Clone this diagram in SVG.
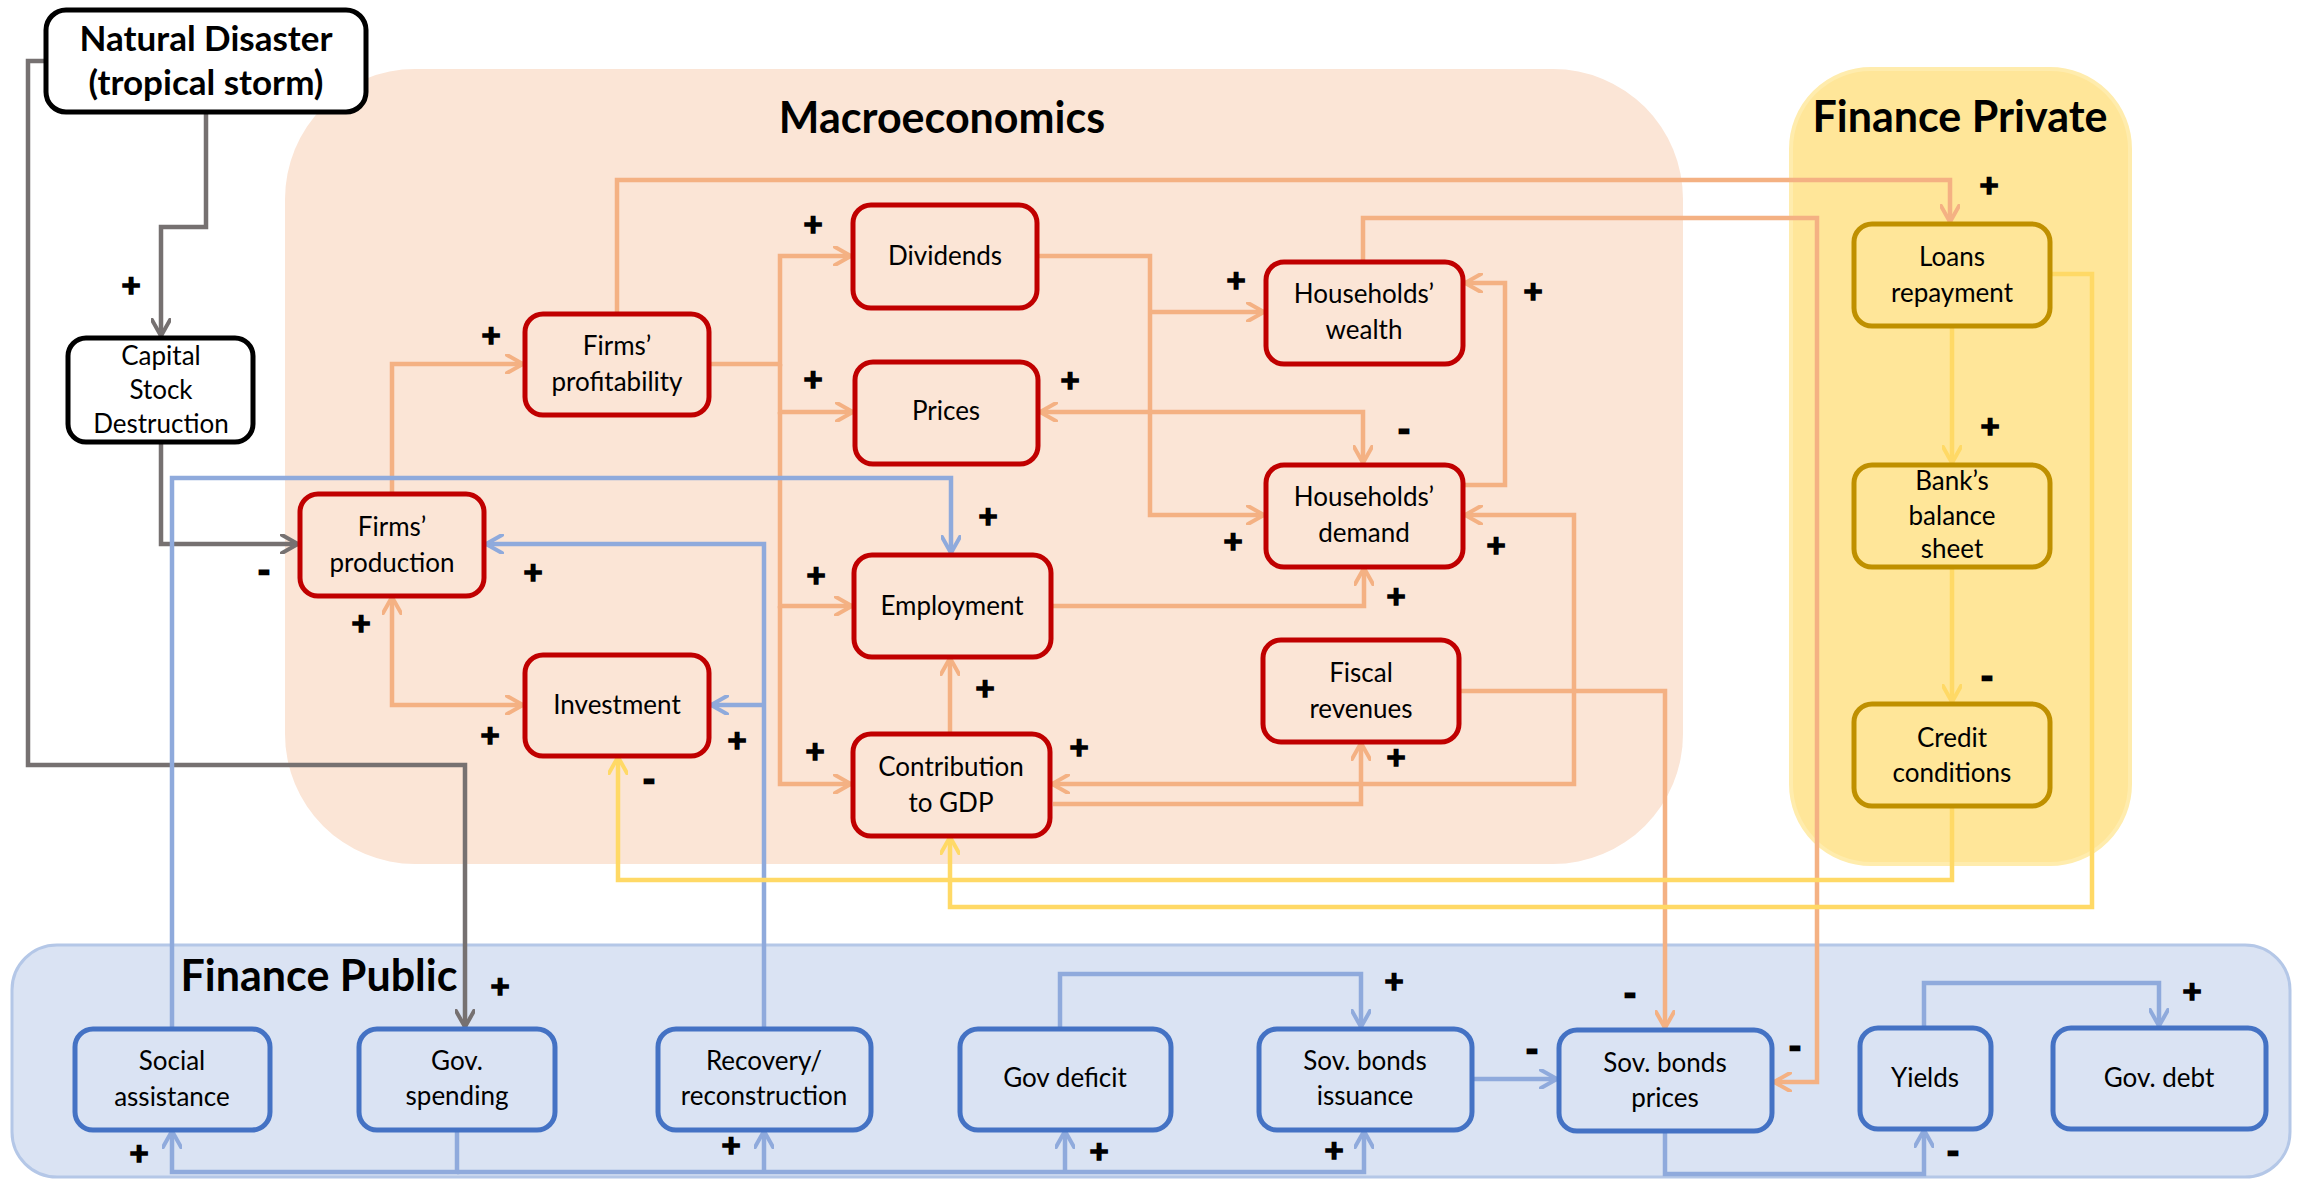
<svg xmlns="http://www.w3.org/2000/svg" width="2305" height="1179" viewBox="0 0 2305 1179">
<style>
text{font-family:Lato,"Liberation Sans",sans-serif;fill:#000}
.t{font-size:26px;text-anchor:middle}
.h{font-size:43px;font-weight:bold;text-anchor:middle}
.p{font-size:33px;font-weight:bold;text-anchor:middle;stroke:#000;stroke-width:1.6}
.m{font-size:32px;font-weight:bold;text-anchor:middle;stroke:#000;stroke-width:2.5}
.nr{fill:#FBE5D6;stroke:#C00000;stroke-width:5}
.ng{fill:#FFE699;stroke:#BF9000;stroke-width:5}
.nb{fill:#DAE3F3;stroke:#4472C4;stroke-width:5}
.nk{fill:#fff;stroke:#000;stroke-width:5}
.c{fill:none;stroke-linejoin:miter}
.co{stroke:#F4B183;stroke-width:4.5;marker-end:url(#ao)}
.cg{stroke:#767171;stroke-width:4.5;marker-end:url(#ag)}
.cb{stroke:#8FAADC;stroke-width:4.5;marker-end:url(#ab)}
.cy{stroke:#FFD966;stroke-width:4.5;marker-end:url(#ay)}
.bi{marker-start:url(#ao)}
</style>
<defs>
<marker id="ao" viewBox="0 0 20 20" refX="18" refY="10" markerWidth="20" markerHeight="20" markerUnits="userSpaceOnUse" orient="auto-start-reverse"><path d="M2,1 L18,10 L2,19" fill="none" stroke="#F4B183" stroke-width="4" stroke-linecap="round" stroke-linejoin="round"/></marker>
<marker id="ag" viewBox="0 0 20 20" refX="18" refY="10" markerWidth="20" markerHeight="20" markerUnits="userSpaceOnUse" orient="auto-start-reverse"><path d="M2,1 L18,10 L2,19" fill="none" stroke="#767171" stroke-width="4" stroke-linecap="round" stroke-linejoin="round"/></marker>
<marker id="ab" viewBox="0 0 20 20" refX="18" refY="10" markerWidth="20" markerHeight="20" markerUnits="userSpaceOnUse" orient="auto-start-reverse"><path d="M2,1 L18,10 L2,19" fill="none" stroke="#8FAADC" stroke-width="4" stroke-linecap="round" stroke-linejoin="round"/></marker>
<marker id="ay" viewBox="0 0 20 20" refX="18" refY="10" markerWidth="20" markerHeight="20" markerUnits="userSpaceOnUse" orient="auto-start-reverse"><path d="M2,1 L18,10 L2,19" fill="none" stroke="#FFD966" stroke-width="4" stroke-linecap="round" stroke-linejoin="round"/></marker>
</defs>
<rect width="2305" height="1179" fill="#fff"/>
<g id="regions">
<rect x="285" y="69" width="1398" height="795" rx="130" fill="#FBE5D6"/>
<rect x="1791" y="69" width="339" height="795" rx="80" fill="#FFE699" stroke="#FFECAD" stroke-width="4"/>
<rect x="12" y="945" width="2278" height="232" rx="45" fill="#DAE3F3" stroke="#B4C7E7" stroke-width="3"/>
<text class="h" x="942" y="133">Macroeconomics</text>
<text class="h" x="1960" y="132">Finance Private</text>
<text class="h" x="319" y="991">Finance Public</text>
</g>
<g id="connectors" class="c">
<path class="c cg" d="M206,112 V227 H161 V336"/>
<path class="c cg" d="M46,61 H28 V765 H465 V1027"/>
<path class="c cg" d="M161,442 V544 H298"/>
<path class="c co" d="M392,494 V364 H523"/>
<path class="c co" d="M617,314 V180 H1950 V222"/>
<path class="c co" d="M709,364 H780 V256 H851"/>
<path class="c co" d="M780,364 V412 H853"/>
<path class="c co" d="M780,412 V606 H852"/>
<path class="c co" d="M780,606 V784 H851"/>
<path class="c co" d="M1037,256 H1150 V515 H1264"/>
<path class="c co" d="M1150,312 H1264"/>
<path class="c co bi" d="M1040,412 H1363 V463"/>
<path class="c co" d="M1363,262 V218 H1817 V1082 H1774"/>
<path class="c co" d="M1463,485 H1505 V283 H1465"/>
<path class="c co bi" d="M1465,515 H1574 V784 H1052"/>
<path class="c co" d="M1053,804 H1361 V743"/>
<path class="c co" d="M950,734 V658"/>
<path class="c co" d="M1051,606 H1364 V568"/>
<path class="c co" d="M1459,691 H1665 V1028"/>
<path class="c co bi" d="M392,597 V705 H523"/>
<path class="c cb" d="M172,1029 V478 H951 V553"/>
<path class="c cb" d="M764,1029 V544 H486"/>
<path class="c cb" d="M764,705 H711"/>
<path class="c cb" d="M457,1131 V1172 H172 V1131"/>
<path class="c cb" d="M457,1172 H1364 V1131"/>
<path class="c cb" d="M764,1172 V1131"/>
<path class="c cb" d="M1065,1172 V1131"/>
<path class="c cb" d="M1060,1029 V974 H1361 V1027"/>
<path class="c cb" d="M1472,1079 H1557"/>
<path class="c cb" d="M1665,1131 V1174 H1924 V1130"/>
<path class="c cb" d="M1924,1028 V983 H2159 V1026"/>
<path class="c cy" d="M1952,326 V463"/>
<path class="c cy" d="M1952,567 V702"/>
<path class="c cy" d="M1952,806 V880 H618 V757"/>
<path class="c cy" d="M2050,274 H2092 V907 H950 V837"/>
</g>
<g id="signs">
<text class="p" x="131" y="297">+</text>
<text class="p" x="500" y="998">+</text>
<text class="m" x="264" y="582">-</text>
<text class="p" x="491" y="347">+</text>
<text class="p" x="1989" y="197">+</text>
<text class="p" x="813" y="236">+</text>
<text class="p" x="813" y="391">+</text>
<text class="p" x="816" y="587">+</text>
<text class="p" x="815" y="763">+</text>
<text class="p" x="1236" y="292">+</text>
<text class="p" x="1233" y="553">+</text>
<text class="p" x="1070" y="392">+</text>
<text class="m" x="1404" y="441">-</text>
<text class="m" x="1795" y="1058">-</text>
<text class="p" x="1533" y="303">+</text>
<text class="p" x="1496" y="557">+</text>
<text class="p" x="1079" y="759">+</text>
<text class="p" x="1396" y="769">+</text>
<text class="p" x="985" y="700">+</text>
<text class="p" x="1396" y="608">+</text>
<text class="m" x="1630" y="1005">-</text>
<text class="p" x="361" y="635">+</text>
<text class="p" x="490" y="747">+</text>
<text class="p" x="988" y="528">+</text>
<text class="p" x="533" y="584">+</text>
<text class="p" x="737" y="752">+</text>
<text class="p" x="139" y="1165">+</text>
<text class="p" x="731" y="1157">+</text>
<text class="p" x="1099" y="1163">+</text>
<text class="p" x="1334" y="1162">+</text>
<text class="p" x="1394" y="993">+</text>
<text class="m" x="1532" y="1061">-</text>
<text class="m" x="1953" y="1163">-</text>
<text class="p" x="2192" y="1003">+</text>
<text class="p" x="1990" y="438">+</text>
<text class="m" x="1987" y="688">-</text>
<text class="m" x="649" y="791">-</text>
</g>
<g id="n-disaster"><rect class="nk" x="46" y="10" width="320" height="102" rx="20"/><text class="t" x="206" y="51" style="font-size:35px;font-weight:bold">Natural Disaster</text><text class="t" x="206" y="95" style="font-size:35px;font-weight:bold">(tropical storm)</text></g>
<g id="n-capital"><rect class="nk" x="68" y="338" width="185" height="104" rx="18"/><text class="t" x="161" y="365">Capital</text><text class="t" x="161" y="399">Stock</text><text class="t" x="161" y="433">Destruction</text></g>
<g id="n-profitability"><rect class="nr" x="525" y="314" width="184" height="101" rx="18"/><text class="t" x="617" y="355">Firms’</text><text class="t" x="617" y="391">profitability</text></g>
<g id="n-dividends"><rect class="nr" x="853" y="205" width="184" height="103" rx="18"/><text class="t" x="945" y="265">Dividends</text></g>
<g id="n-prices"><rect class="nr" x="855" y="362" width="183" height="102" rx="18"/><text class="t" x="946" y="420">Prices</text></g>
<g id="n-hwealth"><rect class="nr" x="1266" y="262" width="197" height="102" rx="18"/><text class="t" x="1364" y="303">Households’</text><text class="t" x="1364" y="339">wealth</text></g>
<g id="n-hdemand"><rect class="nr" x="1266" y="465" width="197" height="102" rx="18"/><text class="t" x="1364" y="506">Households’</text><text class="t" x="1364" y="542">demand</text></g>
<g id="n-employment"><rect class="nr" x="854" y="555" width="197" height="102" rx="18"/><text class="t" x="952" y="615">Employment</text></g>
<g id="n-gdp"><rect class="nr" x="853" y="734" width="197" height="102" rx="18"/><text class="t" x="951" y="776">Contribution</text><text class="t" x="951" y="812">to GDP</text></g>
<g id="n-fiscal"><rect class="nr" x="1263" y="640" width="196" height="102" rx="18"/><text class="t" x="1361" y="682">Fiscal</text><text class="t" x="1361" y="718">revenues</text></g>
<g id="n-production"><rect class="nr" x="300" y="494" width="184" height="102" rx="18"/><text class="t" x="392" y="536">Firms’</text><text class="t" x="392" y="572">production</text></g>
<g id="n-investment"><rect class="nr" x="525" y="655" width="184" height="101" rx="18"/><text class="t" x="617" y="714">Investment</text></g>
<g id="n-loans"><rect class="ng" x="1854" y="224" width="196" height="102" rx="18"/><text class="t" x="1952" y="266">Loans</text><text class="t" x="1952" y="302">repayment</text></g>
<g id="n-bank"><rect class="ng" x="1854" y="465" width="196" height="102" rx="18"/><text class="t" x="1952" y="490">Bank’s</text><text class="t" x="1952" y="525">balance</text><text class="t" x="1952" y="558">sheet</text></g>
<g id="n-credit"><rect class="ng" x="1854" y="704" width="196" height="102" rx="18"/><text class="t" x="1952" y="747">Credit</text><text class="t" x="1952" y="782">conditions</text></g>
<g id="n-social"><rect class="nb" x="75" y="1029" width="195" height="101" rx="18"/><text class="t" x="172" y="1070">Social</text><text class="t" x="172" y="1106">assistance</text></g>
<g id="n-govspending"><rect class="nb" x="359" y="1029" width="196" height="101" rx="18"/><text class="t" x="457" y="1070">Gov.</text><text class="t" x="457" y="1105">spending</text></g>
<g id="n-recovery"><rect class="nb" x="658" y="1029" width="213" height="101" rx="18"/><text class="t" x="764" y="1070">Recovery/</text><text class="t" x="764" y="1105">reconstruction</text></g>
<g id="n-deficit"><rect class="nb" x="960" y="1029" width="211" height="101" rx="18"/><text class="t" x="1065" y="1087">Gov deficit</text></g>
<g id="n-issuance"><rect class="nb" x="1259" y="1029" width="213" height="101" rx="18"/><text class="t" x="1365" y="1070">Sov. bonds</text><text class="t" x="1365" y="1105">issuance</text></g>
<g id="n-bondprices"><rect class="nb" x="1559" y="1030" width="213" height="101" rx="18"/><text class="t" x="1665" y="1072">Sov. bonds</text><text class="t" x="1665" y="1107">prices</text></g>
<g id="n-yields"><rect class="nb" x="1860" y="1028" width="131" height="101" rx="18"/><text class="t" x="1925" y="1087">Yields</text></g>
<g id="n-debt"><rect class="nb" x="2053" y="1028" width="213" height="101" rx="18"/><text class="t" x="2159" y="1087">Gov. debt</text></g>
</svg>
